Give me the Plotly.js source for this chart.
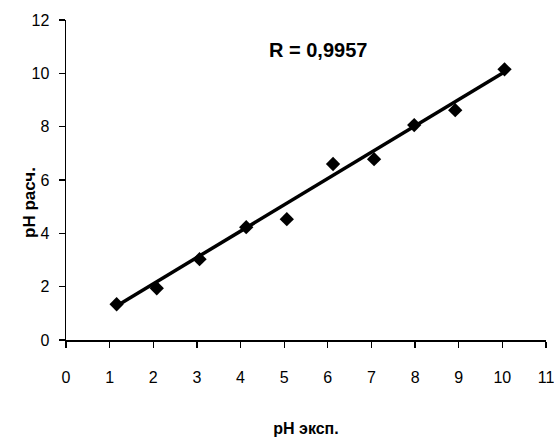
<!DOCTYPE html>
<html>
<head>
<meta charset="utf-8">
<script src="https://cdn.plot.ly/plotly-3.0.1.min.js"></script>
<style>html,body{margin:0;padding:0;background:#fff;}#chart{width:554px;height:438px;}</style>
</head>
<body>
<div id="chart"></div>
<script>
// Data
var phExp  = [1.16, 2.08, 3.06, 4.13, 5.06, 6.12, 7.06, 7.98, 8.92, 10.05];
var phCalc = [1.34, 1.94, 3.03, 4.23, 4.53, 6.60, 6.78, 8.06, 8.62, 10.15];
// Trend line endpoints
var trendX = [1.15, 10.0];
var trendY = [1.27, 10.0];
var xTicks = [0, 1, 2, 3, 4, 5, 6, 7, 8, 9, 10, 11];
var yTicks = [0, 2, 4, 6, 8, 10, 12];
var rLabel = 'R = 0,9957';
var xTitle = 'pH эксп.';
var yTitle = 'pH расч.';

var FONT = 'Liberation Sans, Arial, sans-serif';

var traces = [
  {x: trendX, y: trendY, mode: 'lines', type: 'scatter',
   line: {color: '#000', width: 3.5}, hoverinfo: 'skip', showlegend: false},
  {x: phExp, y: phCalc, mode: 'markers', type: 'scatter',
   marker: {symbol: 'diamond', size: 11, color: '#000'}, showlegend: false}
];

var layout = {
  width: 554, height: 438,
  margin: {l: 66, r: 8, t: 20, b: 98},
  paper_bgcolor: '#fff', plot_bgcolor: '#fff',
  font: {family: FONT, color: '#000', size: 16},
  showlegend: false,
  xaxis: {
    range: [0, 11.0001], tickvals: xTicks, ticktext: xTicks.map(String),
    showgrid: false, zeroline: false, showline: true, linecolor: '#000', linewidth: 1.5,
    ticks: 'outside', ticklen: 6, tickwidth: 1.2, tickcolor: '#000',
    ticklabelstandoff: 16, ticklabeloverflow: 'allow',
    tickfont: {family: FONT, size: 16, color: '#000'},
    title: {text: xTitle, font: {family: FONT, size: 16, color: '#000', weight: 'bold'}, standoff: 38},
    automargin: false, fixedrange: true
  },
  yaxis: {
    range: [0, 12], tickvals: yTicks, ticktext: yTicks.map(String),
    showgrid: false, zeroline: false, showline: true, linecolor: '#000', linewidth: 1.5,
    ticks: 'outside', ticklen: 6, tickwidth: 1.2, tickcolor: '#000',
    ticklabelstandoff: 6,
    tickfont: {family: FONT, size: 16, color: '#000'},
    automargin: false, fixedrange: true
  },
  annotations: [
    {x: 5.78, y: 10.87, xref: 'x', yref: 'y', text: '<b>' + rLabel + '</b>', showarrow: false,
     font: {family: FONT, size: 20, color: '#000'}},
    {x: -0.1, y: 0.43, xref: 'paper', yref: 'paper', text: '<b>' + yTitle + '</b>', showarrow: false,
     textangle: -90, font: {family: FONT, size: 17, color: '#000'}}
  ]
};

Plotly.newPlot('chart', traces, layout, {displayModeBar: false, staticPlot: true});
</script>
</body>
</html>
